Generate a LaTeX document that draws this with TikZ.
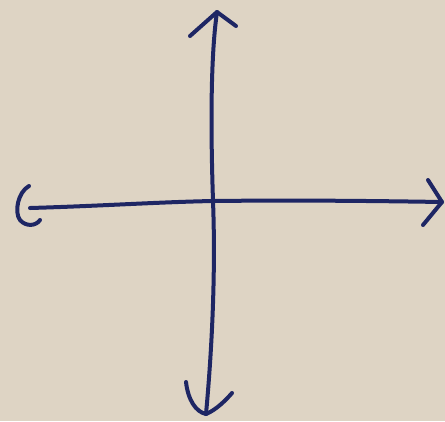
\documentclass[tikz,border=0pt]{standalone}
\definecolor{paper}{RGB}{222,212,196}
\definecolor{ink}{RGB}{30,38,100}
\tikzset{pen/.style={draw=ink,line width=4bp,line cap=round,line join=round}}
\begin{document}
\begin{tikzpicture}[x=1bp,y=-1bp]
\fill[paper] (0,0) rectangle (445,421);
\useasboundingbox (0,0) rectangle (445,421);
% vertical axis
\coordinate (vt) at (217,12);
\coordinate (vb) at (206,414);
\coordinate (c) at (213,201);
\draw[pen] (vt) .. controls (210,60) and (211,140) .. (c) .. controls (216,280) and (211,360) .. (vb);
\coordinate (tl) at (190,36);
\coordinate (tr) at (236,26);
\draw[pen] (tl) -- (vt) -- (tr);
\coordinate (bl) at (186,382);
\coordinate (br) at (232,393);
\draw[pen] (bl) .. controls (188,400) and (196,412) .. (vb) .. controls (216,410) and (226,400) .. (br);
% horizontal axis
\coordinate (hl) at (30,208);
\coordinate (hr) at (442,202);
\draw[pen] (hl) .. controls (100,206) and (160,202) .. (c) .. controls (300,200) and (380,201) .. (hr);
\coordinate (ra) at (428,180);
\coordinate (rb) at (423,225);
\draw[pen] (ra) -- (hr) -- (rb);
% left hook
\coordinate (h1) at (29,186);
\coordinate (h2) at (40,220);
\draw[pen] (h1) .. controls (18,192) and (14,212) .. (20,220) .. controls (26,227) and (36,226) .. (h2);
\end{tikzpicture}
\end{document}
